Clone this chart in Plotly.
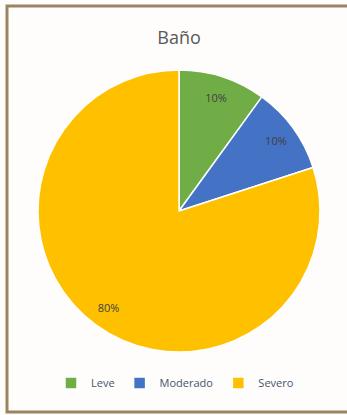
import plotly.graph_objects as go

categories = ["Leve", "Moderado", "Severo"]
values = [10, 10, 80]
colors = ["#70ad47", "#4472c4", "#ffc000"]

W, H = 347, 415
dom = dict(x=[38 / W, 320 / W], y=[(H - 352) / H, (H - 70) / H])

fig = go.Figure()
fig.add_trace(go.Pie(
    labels=categories,
    values=values,
    sort=False,
    direction="clockwise",
    rotation=0,
    marker=dict(colors=colors, line=dict(color="#ffffff", width=1.5)),
    textinfo="none",
    hoverinfo="label+percent",
    domain=dom,
))
# label ring (transparent) so percentages sit near the outer edge
fig.add_trace(go.Pie(
    labels=categories,
    values=values,
    sort=False,
    direction="clockwise",
    rotation=0,
    hole=0.7,
    marker=dict(colors=["rgba(0,0,0,0)"] * 3, line=dict(width=0)),
    texttemplate="%{percent:.0%}",
    textposition="inside",
    insidetextorientation="horizontal",
    textfont=dict(family="Open Sans", size=11, color="#404040"),
    hoverinfo="skip",
    showlegend=False,
    domain=dom,
))

fig.update_layout(
    width=W, height=H,
    margin=dict(l=0, r=0, t=0, b=0),
    paper_bgcolor="#fffdfb",
    plot_bgcolor="#fffdfb",
    title=dict(text="Baño", x=179 / W, xanchor="center", y=(H - 38) / H, yanchor="middle",
               font=dict(family="Open Sans", size=18, color="#595959")),
    showlegend=True,
    legend=dict(orientation="h", x=175 / W, xanchor="center", y=(H - 383) / H, yanchor="middle",
                font=dict(family="Open Sans", size=11, color="#44546a"),
                itemwidth=30, traceorder="normal"),
    shapes=[dict(type="rect", xref="paper", yref="paper",
                 x0=7 / W, x1=349 / W, y0=(H - 412) / H, y1=(H - 6) / H,
                 line=dict(color="#9b8560", width=3), fillcolor="rgba(0,0,0,0)")],
)

fig.write_html("out.html", config={"displayModeBar": False},
               post_script="document.body.style.margin='0';")
